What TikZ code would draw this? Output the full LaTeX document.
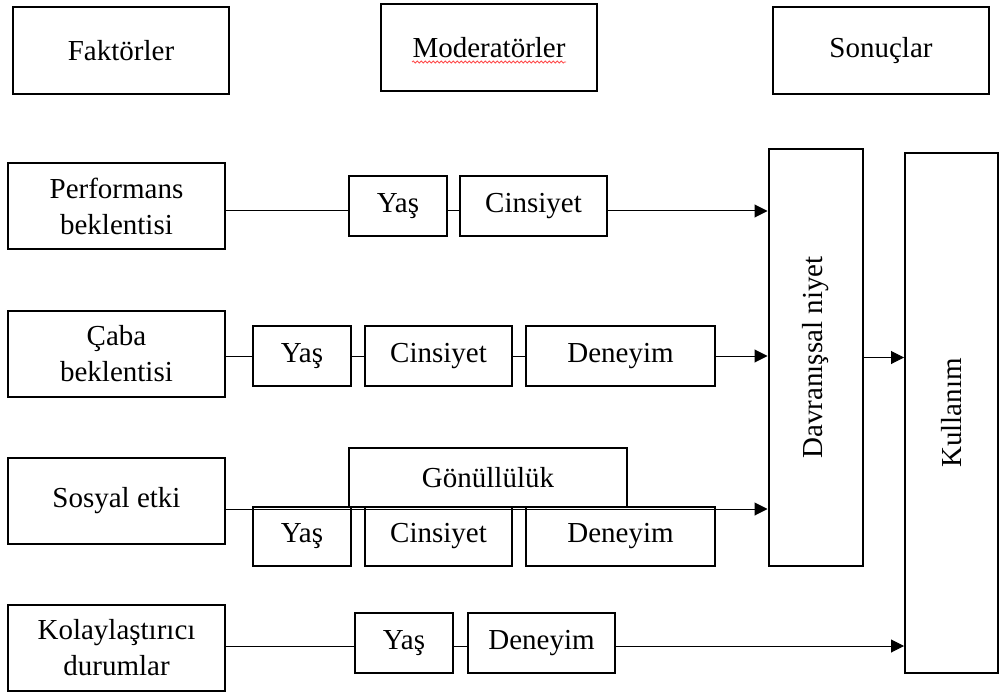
\documentclass[tikz,border=0pt]{standalone}
\usepackage{fontspec}
\setmainfont{Liberation Serif}
\usepackage{graphicx}
\usepackage{tikz}
\usetikzlibrary{arrows.meta,positioning,calc,decorations.pathmorphing}

\begin{document}
\begin{tikzpicture}[x=0.5pt,y=-0.5pt,>={Triangle[length=6.5pt,width=6.5pt]},
  every node/.style={font=\fontsize{14.5}{18}\selectfont},
  box/.style={draw,line width=1pt,inner sep=0pt,align=center},
  headbox/.style={box,minimum width=108pt,minimum height=43.5pt},
  factorbox/.style={box,minimum width=108.5pt,minimum height=43pt},
  modbox/.style={box,minimum height=30pt},
  outbox/.style={box,minimum width=47pt},
  conn/.style={line width=0.5pt}]
  \useasboundingbox (0,0) rectangle (1000,695);

  % column headers
  \node[headbox] (fak) at (121,51) {Faktörler};
  \node[headbox] (mod) at (489,47.5) {Moderatörler};
  \node[headbox] (son) at (881,50.5) {Sonuçlar};
  \draw[red!70,line width=0.4pt,decorate,
        decoration={snake,amplitude=0.5pt,segment length=2pt}]
    ($(mod.center)+(-77,14.5)$) -- ($(mod.center)+(77,14.5)$);

  % factors
  \node[factorbox] (perf) at (116.5,206) {Performans\\beklentisi};
  \node[factorbox,below=30pt of perf] (caba) {Çaba\\beklentisi};
  \node[factorbox,below=29.5pt of caba] (sos) {Sosyal etki};
  \node[factorbox,below=29.5pt of sos] (kol) {Kolaylaştırıcı\\durumlar};

  % moderators
  \node[modbox,minimum width=49pt] (yas1) at (398,206) {Yaş};
  \node[modbox,minimum width=73.5pt,right=5.5pt of yas1] (cin1) {Cinsiyet};

  \node[modbox,minimum width=49pt] (yas2) at (302,356) {Yaş};
  \node[modbox,minimum width=73.5pt,right=6pt of yas2] (cin2) {Cinsiyet};
  \node[modbox,minimum width=94.5pt,right=6pt of cin2] (den2) {Deneyim};

  \node[modbox,minimum width=139pt,minimum height=29.5pt] (gon) at (488,477.5) {Gönüllülük};
  \node[modbox,minimum width=49pt,minimum height=29.5pt] (yas3) at (302,536.5) {Yaş};
  \node[modbox,minimum width=73.5pt,minimum height=29.5pt,right=6pt of yas3] (cin3) {Cinsiyet};
  \node[modbox,minimum width=94.5pt,minimum height=29.5pt,right=6pt of cin3] (den3) {Deneyim};

  \node[modbox,minimum width=49pt] (yas4) at (404,643) {Yaş};
  \node[modbox,minimum width=73.5pt,right=6.5pt of yas4] (den4) {Deneyim};

  % outcomes
  \node[outbox,minimum height=208.5pt] (dav) at (815.5,357.5) {\rotatebox{90}{Davranışsal niyet}};
  \node[outbox,minimum width=46.5pt,minimum height=260pt] (kul) at (951.5,413) {\rotatebox{90}{Kullanım}};

  % connectors
  \draw[conn] ([yshift=-2.5pt]perf.east) -- ([yshift=-2.5pt]yas1.west);
  \draw[conn] ([yshift=-2.5pt]yas1.east) -- ([yshift=-2.5pt]cin1.west);
  \draw[conn,->] ([yshift=-2.5pt]cin1.east) -- ($(cin1.east -| dav.west)+(0,5)$);

  \draw[conn] (caba.east |- yas2.west) -- (yas2.west);
  \draw[conn] (yas2.east) -- (cin2.west);
  \draw[conn] (cin2.east) -- (den2.west);
  \draw[conn,->] (den2.east) -- (den2.east -| dav.west);

  \draw[conn,->] ($(sos.east)+(0,8)$) -- ($(sos.east -| dav.west)+(0,8)$);

  \draw[conn] ([yshift=-1.5pt]kol.east |- yas4.west) -- ([yshift=-1.5pt]yas4.west);
  \draw[conn] ([yshift=-1.5pt]yas4.east) -- ([yshift=-1.5pt]den4.west);
  \draw[conn,->] ([yshift=-1.5pt]den4.east) -- ($(den4.east -| kul.west)+(0,3)$);

  \draw[conn,->] (dav.east) -- (dav.east -| kul.west);
\end{tikzpicture}
\end{document}
